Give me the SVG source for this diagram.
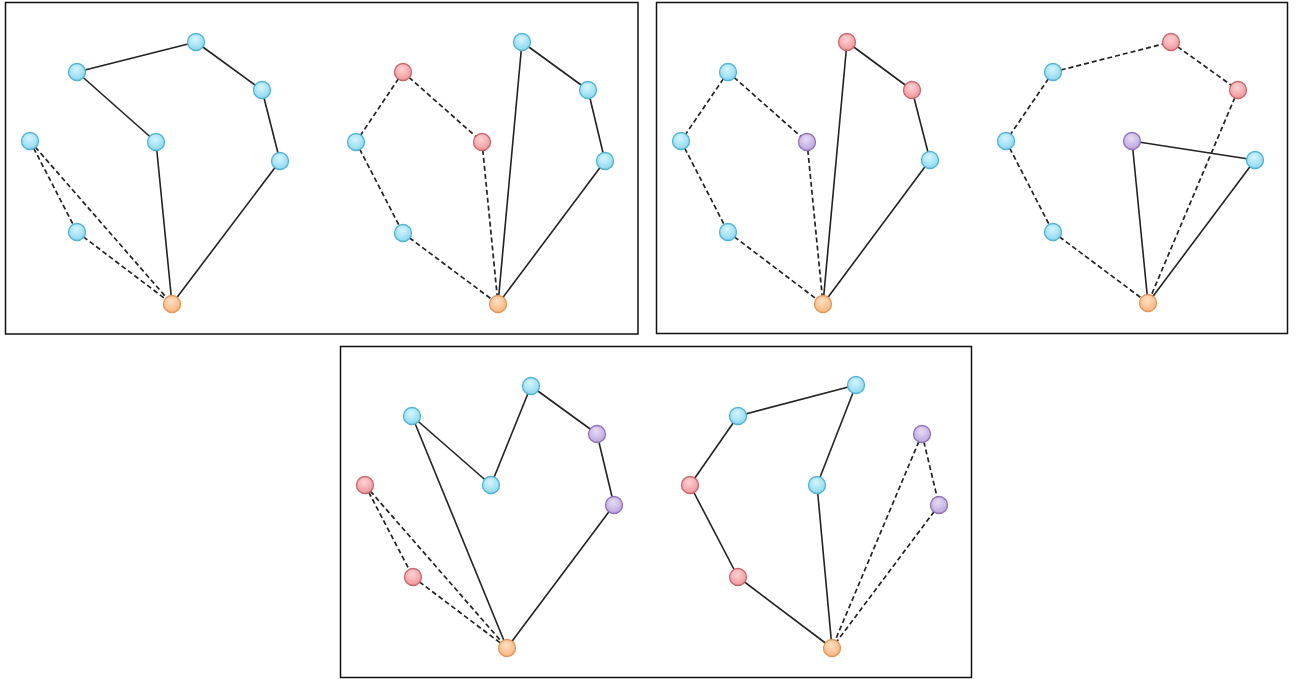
<svg xmlns="http://www.w3.org/2000/svg" width="1296" height="679" viewBox="0 0 1296 679">
<defs>
<radialGradient id="gc" cx="0.45" cy="0.35" r="0.7"><stop offset="0" stop-color="#d4f5fd"/><stop offset="1" stop-color="#86d5ee"/></radialGradient>
<radialGradient id="gr" cx="0.45" cy="0.35" r="0.7"><stop offset="0" stop-color="#fcd3d4"/><stop offset="1" stop-color="#ee9096"/></radialGradient>
<radialGradient id="gp" cx="0.45" cy="0.35" r="0.7"><stop offset="0" stop-color="#e6dcf5"/><stop offset="1" stop-color="#b8a0da"/></radialGradient>
<radialGradient id="go" cx="0.45" cy="0.35" r="0.7"><stop offset="0" stop-color="#fde0c4"/><stop offset="1" stop-color="#f8b077"/></radialGradient>
</defs>
<style>
.box{fill:#fff;stroke:#111;stroke-width:1.5}
.s{stroke:#222;stroke-width:1.6;fill:none}
.d{stroke:#222;stroke-width:1.7;fill:none;stroke-dasharray:5 3}
.c{fill:url(#gc);stroke:#4fb3d2;stroke-width:1.3}
.r{fill:url(#gr);stroke:#c8666b;stroke-width:1.3}
.p{fill:url(#gp);stroke:#8e72ba;stroke-width:1.3}
.o{fill:url(#go);stroke:#e3955a;stroke-width:1.3}
</style>
<rect width="1296" height="679" fill="#fff"/>
<g id="panels">
<rect class="box" x="5.5" y="2.5" width="632.5" height="331.5"/>
<rect class="box" x="656.5" y="2.5" width="631" height="331"/>
<rect class="box" x="340.5" y="346.5" width="631" height="331"/>
</g>
<g id="connectors">
<line class="s" x1="77" y1="72" x2="196" y2="42"/>
<line class="s" x1="196" y1="42" x2="262" y2="90"/>
<line class="s" x1="262" y1="90" x2="280" y2="161"/>
<line class="s" x1="280" y1="161" x2="172" y2="304"/>
<line class="s" x1="77" y1="72" x2="156" y2="142"/>
<line class="s" x1="156" y1="142" x2="172" y2="304"/>
<line class="d" x1="30" y1="141" x2="77" y2="232"/>
<line class="d" x1="77" y1="232" x2="172" y2="304"/>
<line class="d" x1="30" y1="141" x2="172" y2="304"/>
<line class="s" x1="498" y1="304" x2="522" y2="42"/>
<line class="s" x1="522" y1="42" x2="588" y2="90"/>
<line class="s" x1="588" y1="90" x2="605" y2="161"/>
<line class="s" x1="605" y1="161" x2="498" y2="304"/>
<line class="d" x1="403" y1="72" x2="356" y2="142"/>
<line class="d" x1="403" y1="72" x2="482" y2="142"/>
<line class="d" x1="482" y1="142" x2="498" y2="304"/>
<line class="d" x1="356" y1="142" x2="403" y2="233"/>
<line class="d" x1="403" y1="233" x2="498" y2="304"/>
<line class="s" x1="823" y1="304" x2="847" y2="42"/>
<line class="s" x1="847" y1="42" x2="912" y2="90"/>
<line class="s" x1="912" y1="90" x2="930" y2="160"/>
<line class="s" x1="930" y1="160" x2="823" y2="304"/>
<line class="d" x1="728" y1="72" x2="681" y2="141"/>
<line class="d" x1="728" y1="72" x2="807" y2="142"/>
<line class="d" x1="807" y1="142" x2="823" y2="304"/>
<line class="d" x1="681" y1="141" x2="728" y2="232"/>
<line class="d" x1="728" y1="232" x2="823" y2="304"/>
<line class="s" x1="1132" y1="141" x2="1148" y2="303"/>
<line class="s" x1="1132" y1="141" x2="1255" y2="160"/>
<line class="s" x1="1255" y1="160" x2="1148" y2="303"/>
<line class="d" x1="1053" y1="72" x2="1171" y2="42"/>
<line class="d" x1="1171" y1="42" x2="1238" y2="90"/>
<line class="d" x1="1238" y1="90" x2="1148" y2="303"/>
<line class="d" x1="1053" y1="72" x2="1006" y2="141"/>
<line class="d" x1="1006" y1="141" x2="1053" y2="232"/>
<line class="d" x1="1053" y1="232" x2="1148" y2="303"/>
<line class="s" x1="412" y1="416" x2="491" y2="485"/>
<line class="s" x1="491" y1="485" x2="531" y2="386"/>
<line class="s" x1="531" y1="386" x2="597" y2="434"/>
<line class="s" x1="597" y1="434" x2="614" y2="505"/>
<line class="s" x1="614" y1="505" x2="507" y2="648"/>
<line class="s" x1="412" y1="416" x2="507" y2="648"/>
<line class="d" x1="365" y1="485" x2="413" y2="577"/>
<line class="d" x1="413" y1="577" x2="507" y2="648"/>
<line class="d" x1="365" y1="485" x2="507" y2="648"/>
<line class="s" x1="738" y1="416" x2="856" y2="385"/>
<line class="s" x1="856" y1="385" x2="817" y2="485"/>
<line class="s" x1="817" y1="485" x2="832" y2="648"/>
<line class="s" x1="738" y1="416" x2="690" y2="485"/>
<line class="s" x1="690" y1="485" x2="738" y2="577"/>
<line class="s" x1="738" y1="577" x2="832" y2="648"/>
<line class="d" x1="922" y1="434" x2="939" y2="505"/>
<line class="d" x1="922" y1="434" x2="832" y2="648"/>
<line class="d" x1="939" y1="505" x2="832" y2="648"/>
</g>
<g id="p1l">
<circle id="n1a" class="c" cx="196" cy="42" r="8.5"/>
<circle id="n1b" class="c" cx="77" cy="72" r="8.5"/>
<circle id="n1c" class="c" cx="262" cy="90" r="8.5"/>
<circle id="n1d" class="c" cx="156" cy="142" r="8.5"/>
<circle id="n1e" class="c" cx="30" cy="141" r="8.5"/>
<circle id="n1f" class="c" cx="280" cy="161" r="8.5"/>
<circle id="n1g" class="c" cx="77" cy="232" r="8.5"/>
<circle id="n1o" class="o" cx="172" cy="304" r="8.5"/>
</g>
<g id="p1r">
<circle id="n2a" class="c" cx="522" cy="42" r="8.5"/>
<circle id="n2b" class="r" cx="403" cy="72" r="8.5"/>
<circle id="n2c" class="c" cx="588" cy="90" r="8.5"/>
<circle id="n2d" class="c" cx="356" cy="142" r="8.5"/>
<circle id="n2e" class="r" cx="482" cy="142" r="8.5"/>
<circle id="n2f" class="c" cx="605" cy="161" r="8.5"/>
<circle id="n2g" class="c" cx="403" cy="233" r="8.5"/>
<circle id="n2o" class="o" cx="498" cy="304" r="8.5"/>
</g>
<g id="p2l">
<circle id="n3a" class="r" cx="847" cy="42" r="8.5"/>
<circle id="n3b" class="c" cx="728" cy="72" r="8.5"/>
<circle id="n3c" class="r" cx="912" cy="90" r="8.5"/>
<circle id="n3d" class="c" cx="681" cy="141" r="8.5"/>
<circle id="n3e" class="p" cx="807" cy="142" r="8.5"/>
<circle id="n3f" class="c" cx="930" cy="160" r="8.5"/>
<circle id="n3g" class="c" cx="728" cy="232" r="8.5"/>
<circle id="n3o" class="o" cx="823" cy="304" r="8.5"/>
</g>
<g id="p2r">
<circle id="n4a" class="r" cx="1171" cy="42" r="8.5"/>
<circle id="n4b" class="c" cx="1053" cy="72" r="8.5"/>
<circle id="n4c" class="r" cx="1238" cy="90" r="8.5"/>
<circle id="n4d" class="c" cx="1006" cy="141" r="8.5"/>
<circle id="n4e" class="p" cx="1132" cy="141" r="8.5"/>
<circle id="n4f" class="c" cx="1255" cy="160" r="8.5"/>
<circle id="n4g" class="c" cx="1053" cy="232" r="8.5"/>
<circle id="n4o" class="o" cx="1148" cy="303" r="8.5"/>
</g>
<g id="p3l">
<circle id="n5a" class="c" cx="531" cy="386" r="8.5"/>
<circle id="n5b" class="c" cx="412" cy="416" r="8.5"/>
<circle id="n5c" class="p" cx="597" cy="434" r="8.5"/>
<circle id="n5d" class="r" cx="365" cy="485" r="8.5"/>
<circle id="n5e" class="c" cx="491" cy="485" r="8.5"/>
<circle id="n5f" class="p" cx="614" cy="505" r="8.5"/>
<circle id="n5g" class="r" cx="413" cy="577" r="8.5"/>
<circle id="n5o" class="o" cx="507" cy="648" r="8.5"/>
</g>
<g id="p3r">
<circle id="n6a" class="c" cx="856" cy="385" r="8.5"/>
<circle id="n6b" class="c" cx="738" cy="416" r="8.5"/>
<circle id="n6c" class="p" cx="922" cy="434" r="8.5"/>
<circle id="n6d" class="r" cx="690" cy="485" r="8.5"/>
<circle id="n6e" class="c" cx="817" cy="485" r="8.5"/>
<circle id="n6f" class="p" cx="939" cy="505" r="8.5"/>
<circle id="n6g" class="r" cx="738" cy="577" r="8.5"/>
<circle id="n6o" class="o" cx="832" cy="648" r="8.5"/>
</g>
</svg>
